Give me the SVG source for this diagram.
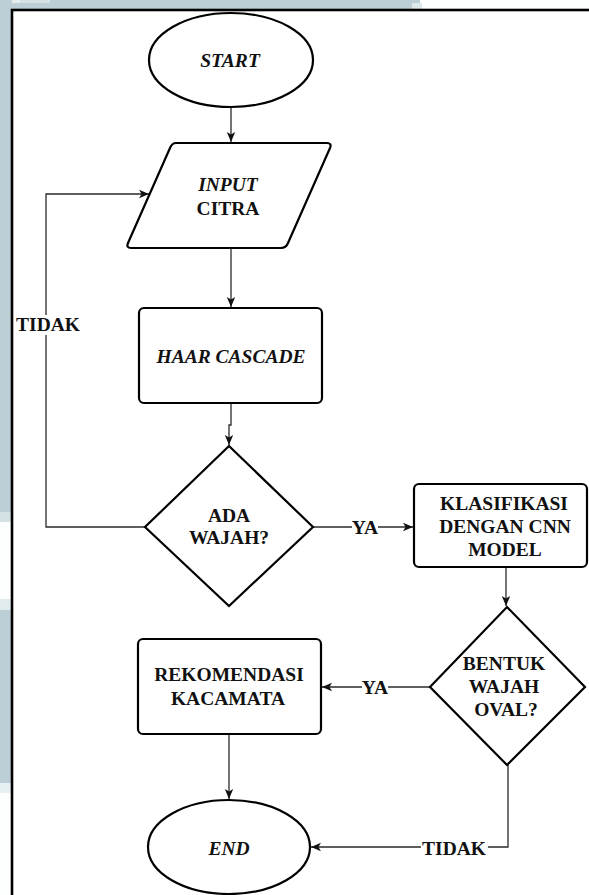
<svg xmlns="http://www.w3.org/2000/svg" width="589" height="895" viewBox="0 0 589 895">
<defs>
<style>
.node{fill:#fff;stroke:#000;stroke-width:2.2}
.t{font-family:"Liberation Serif","Times New Roman",serif;font-weight:bold;font-size:19.5px;fill:#111;text-anchor:middle}
.i{font-style:italic}
.c{fill:none;stroke:#2a2a2a;stroke-width:1.3}
.lb{fill:#fff}
</style>
<marker id="ah" markerUnits="userSpaceOnUse" markerWidth="10" markerHeight="10" viewBox="0 0 10 10" refX="10" refY="5" orient="auto">
<path d="M0,0.8 L10,5 L0,9.2 L2.6,5 Z" fill="#111"/>
</marker>
</defs>
<!-- background -->
<rect x="0" y="0" width="589" height="895" fill="#fdfefe"/>
<rect x="0" y="0" width="420" height="10" fill="#bdcfd6"/>
<rect x="0" y="0" width="20" height="3" fill="#e4ecee"/>
<rect x="20" y="0" width="30" height="3" fill="#d3e0e4"/>
<rect x="412" y="3" width="10" height="7" fill="#dde8eb"/>
<rect x="0" y="0" width="12" height="512" fill="#bdcfd6"/>
<rect x="0" y="512" width="12" height="10" fill="#d5e2e5"/>
<rect x="0" y="599" width="12" height="11" fill="#e1ecee"/>
<rect x="0" y="610" width="12" height="173" fill="#bdcfd6"/>
<rect x="0" y="783" width="12" height="10" fill="#e6f0f2"/>
<!-- panel -->
<rect x="12" y="10" width="600" height="900" fill="#fff" stroke="#000" stroke-width="2.6"/>

<g id="connectors">
<path class="c" d="M231,107 L231,142" marker-end="url(#ah)"/>
<path class="c" d="M231,248 L231,307" marker-end="url(#ah)"/>
<path class="c" d="M231,403 L231,425 L229,425 L229,445" marker-end="url(#ah)"/>
<path class="c" d="M145,527 L46,527 L46,194 L149,194" marker-end="url(#ah)"/>
<path class="c" d="M313,527 L413,527" marker-end="url(#ah)"/>
<path class="c" d="M506,567 L506,606" marker-end="url(#ah)"/>
<path class="c" d="M430,687 L322,687" marker-end="url(#ah)"/>
<path class="c" d="M229,734 L229,799" marker-end="url(#ah)"/>
<path class="c" d="M508,765 L508,847 L311,847" marker-end="url(#ah)"/>
<rect class="lb" x="15" y="315" width="66" height="20"/>
<text class="t" x="48" y="331">TIDAK</text>
<rect class="lb" x="352" y="518" width="26" height="20"/>
<text class="t" x="365" y="534">YA</text>
<rect class="lb" x="362" y="678" width="26" height="20"/>
<text class="t" x="375" y="694">YA</text>
<rect class="lb" x="421" y="838" width="67" height="20"/>
<text class="t" x="454" y="855">TIDAK</text>
</g>

<g id="start">
<ellipse class="node" cx="231" cy="60" rx="82" ry="47"/>
<text class="t i" x="230" y="67">START</text>
</g>
<g id="input">
<path class="node" d="M176,143 L327,143 Q332,143 330,148 L288,243 Q286,248 281,248 L131,248 Q126,248 128,243 L170,148 Q172,143 176,143 Z"/>
<text class="t i" x="228" y="191">INPUT</text>
<text class="t" x="228" y="215">CITRA</text>
</g>
<g id="haar">
<rect class="node" x="139" y="308" width="183" height="95" rx="5"/>
<text class="t i" x="231" y="363">HAAR CASCADE</text>
</g>
<g id="ada">
<path class="node" d="M229,446 L313,527 L229,606 L145,527 Z"/>
<text class="t" x="229" y="522">ADA</text>
<text class="t" x="229" y="544">WAJAH?</text>
</g>
<g id="klasifikasi">
<rect class="node" x="414" y="484" width="173" height="83" rx="5"/>
<text class="t" x="504" y="510">KLASIFIKASI</text>
<text class="t" x="505" y="533">DENGAN CNN</text>
<text class="t" x="505" y="556">MODEL</text>
</g>
<g id="bentuk">
<path class="node" d="M507,607 L585,687 L507,765 L430,687 Z"/>
<text class="t" x="504" y="670">BENTUK</text>
<text class="t" x="504" y="693">WAJAH</text>
<text class="t" x="506" y="716">OVAL?</text>
</g>
<g id="rekomendasi">
<rect class="node" x="138" y="639" width="183" height="95" rx="5"/>
<text class="t" x="229" y="681">REKOMENDASI</text>
<text class="t" x="228" y="705">KACAMATA</text>
</g>
<g id="end">
<ellipse class="node" cx="229" cy="847" rx="81" ry="47"/>
<text class="t i" x="229" y="855">END</text>
</g>
</svg>
